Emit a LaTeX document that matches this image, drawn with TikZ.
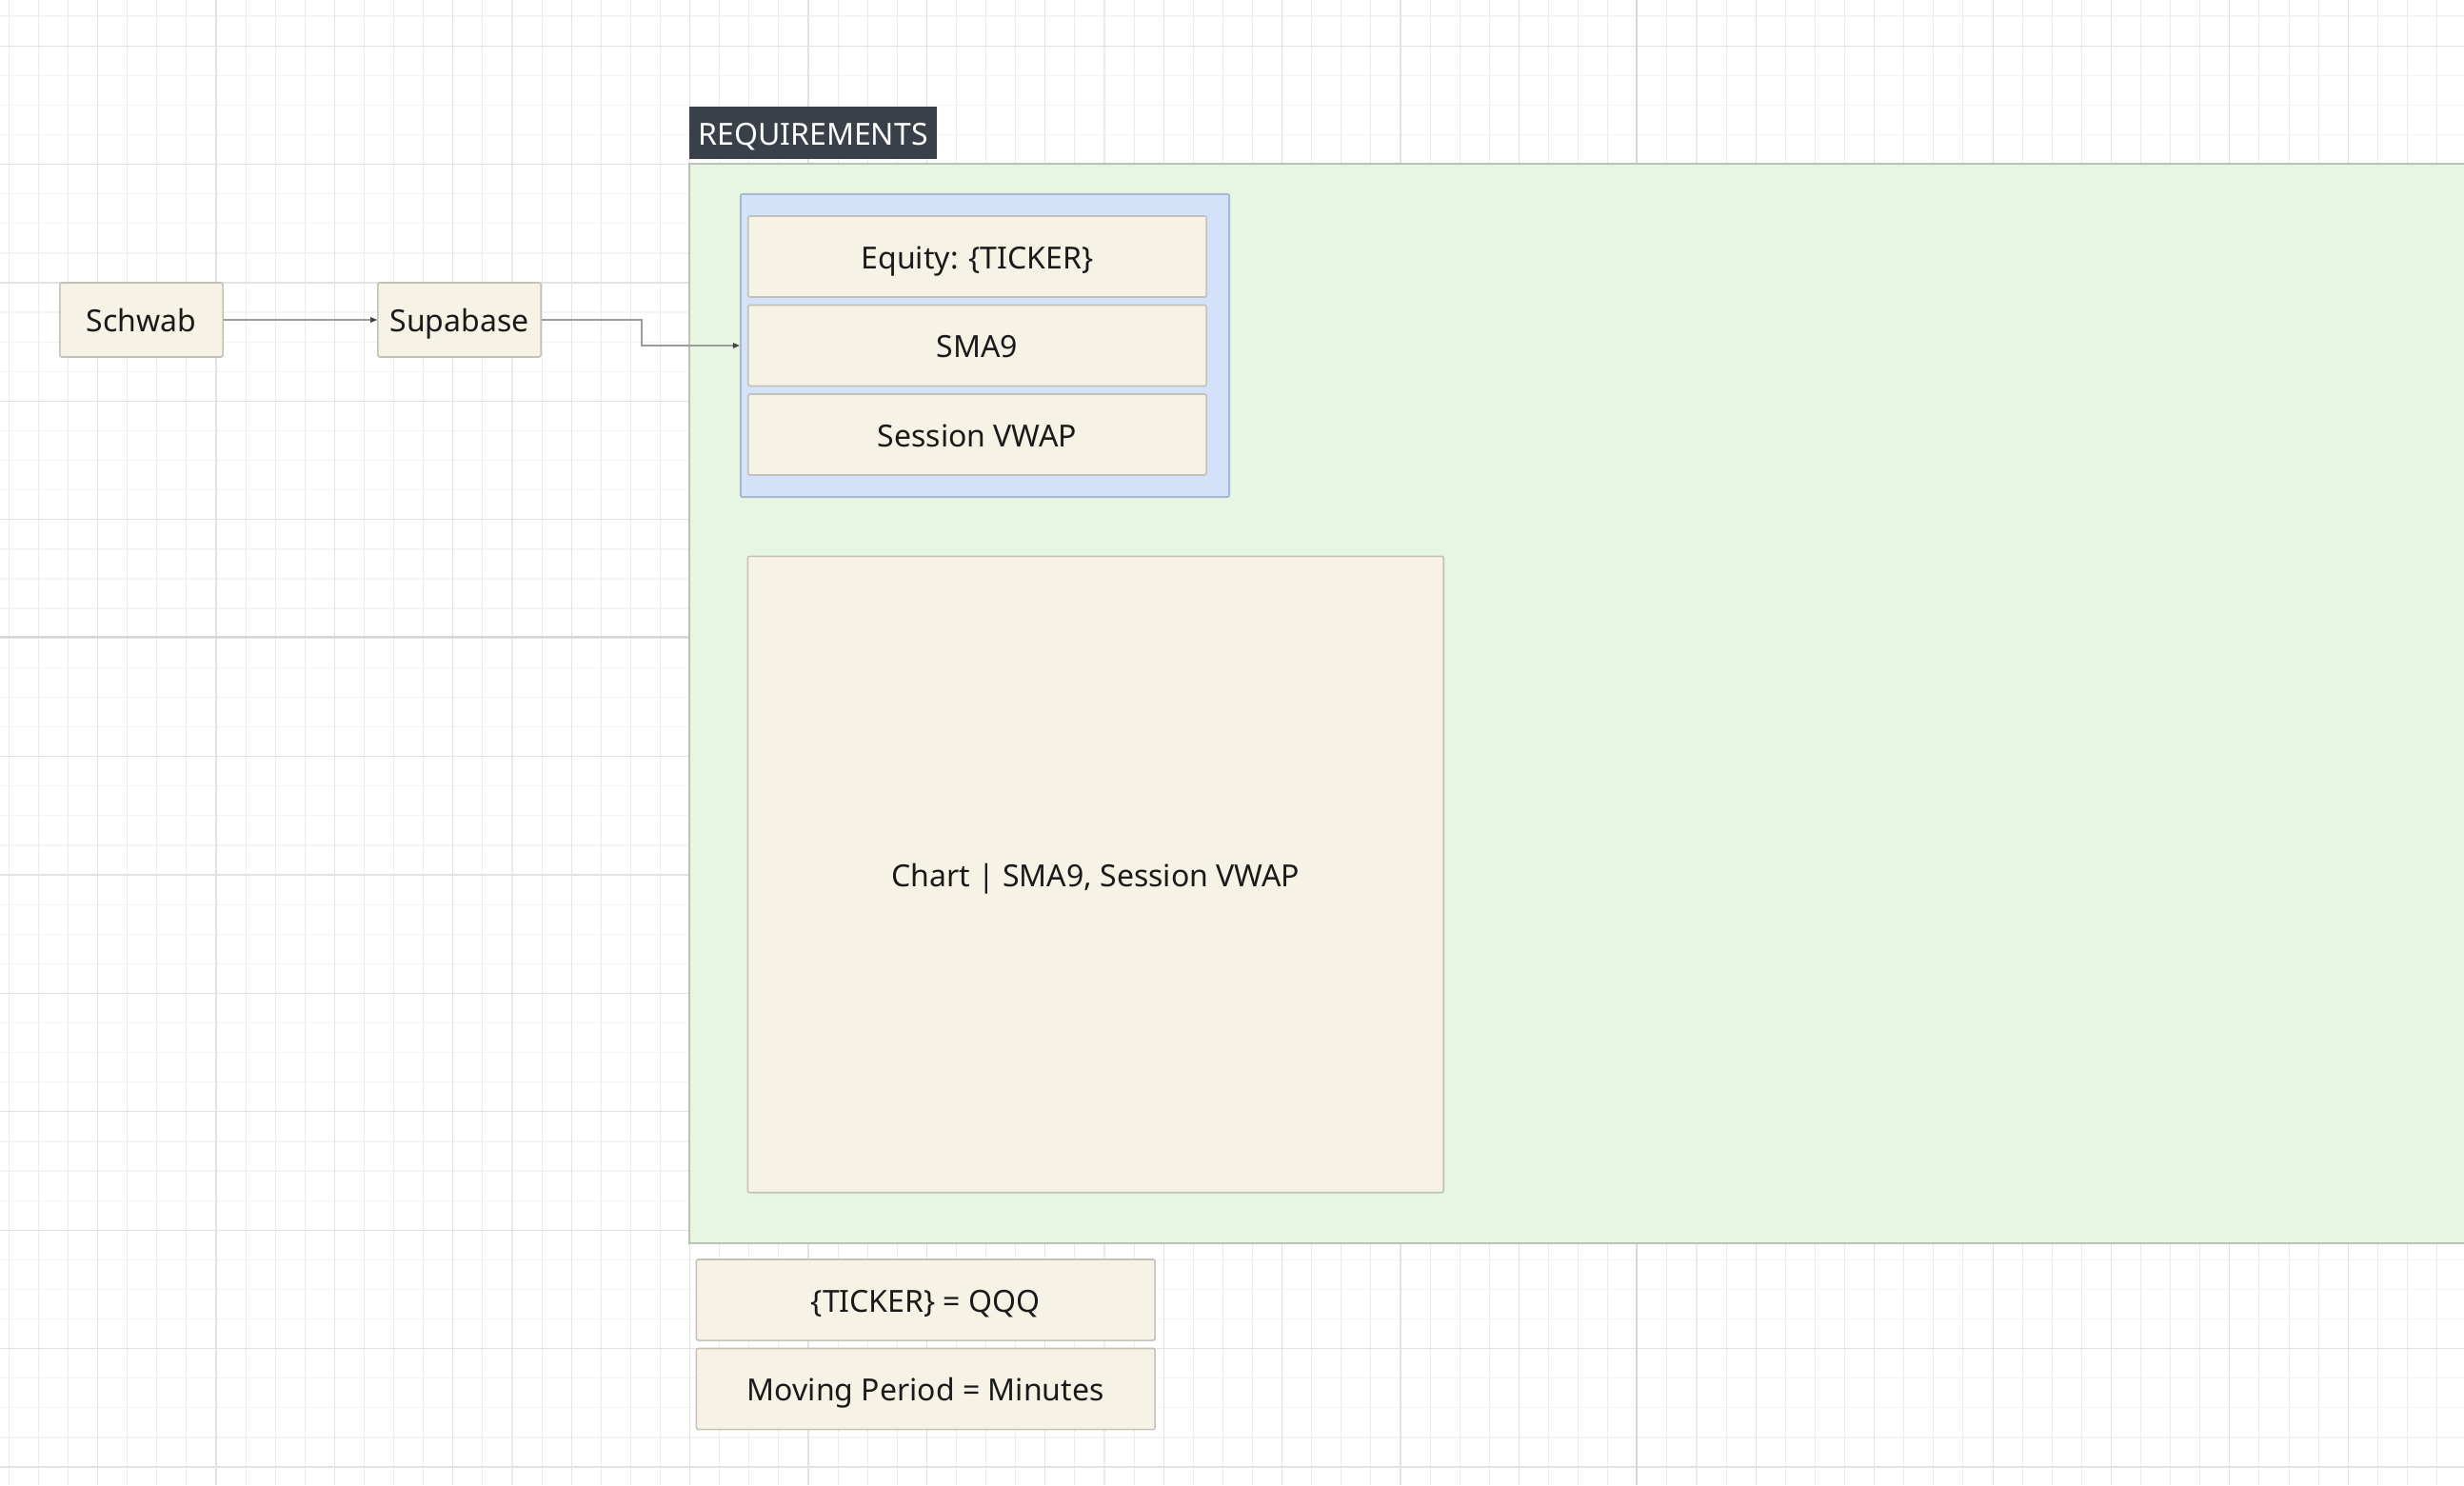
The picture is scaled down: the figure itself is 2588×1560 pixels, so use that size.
\documentclass[tikz,border=0pt]{standalone}
\usepackage{fontspec}
\setmainfont{Noto Sans}
\usetikzlibrary{arrows.meta}

\definecolor{gridvminor}{HTML}{ECECEC}
\definecolor{gridhminor}{HTML}{F4F4F4}
\definecolor{gridmid}{HTML}{E2E2E2}
\definecolor{gridmajor}{HTML}{D6D6D6}
\definecolor{groupfill}{HTML}{E6F6E3}
\definecolor{groupline}{HTML}{B8C2B8}
\definecolor{tagfill}{HTML}{3A4049}
\definecolor{listfill}{HTML}{D3E1F9}
\definecolor{listline}{HTML}{A9B8D1}
\definecolor{cardfill}{HTML}{F6F2E5}
\definecolor{cardline}{HTML}{C4C1B6}
\definecolor{inktext}{HTML}{1A1A1A}
\definecolor{wire}{HTML}{9C9C9C}
\definecolor{wiretip}{HTML}{404040}

\tikzset{
  label font/.style={font=\fontsize{9.1pt}{11pt}\selectfont,
    text height=0.714em, text depth=0pt},
  card/.style={draw=cardline, fill=cardfill, line width=0.45pt,
    rounded corners=0.6pt, inner sep=0pt, text=inktext, label font},
  listbox/.style={draw=listline, fill=listfill, line width=0.55pt,
    rounded corners=0.6pt, inner sep=0pt},
  tagbox/.style={fill=tagfill, inner sep=0pt, text=white, label font},
  conn/.style={draw=wire, line width=0.42pt,
    -{Triangle[length=0.07cm, width=0.055cm, color=wiretip]}},
}

\begin{document}
\begin{tikzpicture}[x=0.01cm, y=-0.01cm]
  \useasboundingbox (0,0) rectangle (2588,1560);
  \fill[white] (0,0) rectangle (2588,1560);

  % canvas grid: minor cells, every fourth line, and the two axes
  \begin{scope}
    \clip (0,0) rectangle (2588,1560);
    \foreach \j in {0,...,50}
      \draw[gridhminor, line width=0.35pt] (0,{17.1+31.1*\j}) -- (2588,{17.1+31.1*\j});
    \foreach \i in {0,...,83}
      \draw[gridvminor, line width=0.3pt] ({9.3+31.1*\i},0) -- ({9.3+31.1*\i},1560);
    \foreach \i in {-1,...,20}
      \draw[gridmid, line width=0.3pt] ({102.6+124.4*\i},0) -- ({102.6+124.4*\i},1560);
    \foreach \j in {0,...,12}
      \draw[gridmid, line width=0.3pt] (0,{48.2+124.4*\j}) -- (2588,{48.2+124.4*\j});
    \draw[gridmajor, line width=0.55pt] (1719,0) -- (1719,1560);
    \draw[gridmajor, line width=0.55pt] (0,669.3) -- (2588,669.3);
  \end{scope}

  % requirements group
  \draw[groupline, fill=groupfill, line width=0.55pt]
    (724,172) rectangle (2600,1306);
  \node[tagbox, minimum width=2.60cm, minimum height=0.55cm] (tag)
    at (854,139.5) {REQUIREMENTS};

  % indicator list
  \node[listbox, minimum width=5.13cm, minimum height=3.18cm] (req)
    at (1034.5,363) {};
  \node[card, minimum width=4.81cm, minimum height=0.85cm] (equity)
    at (1026.5,269.5) {Equity: \{TICKER\}};
  \node[card, minimum width=4.81cm, minimum height=0.85cm] (sma)
    at (1026.5,363) {SMA9};
  \node[card, minimum width=4.81cm, minimum height=0.85cm] (vwap)
    at (1026.5,456.5) {Session VWAP};

  % chart panel
  \node[card, minimum width=7.305cm, minimum height=6.68cm] (chart)
    at (1150.75,918.5) {Chart | SMA9, Session VWAP};

  % parameters
  \node[card, minimum width=4.815cm, minimum height=0.85cm] (ticker)
    at (972.25,1365.5) {\{TICKER\} = QQQ};
  \node[card, minimum width=4.815cm, minimum height=0.85cm] (period)
    at (972.25,1459) {Moving Period = Minutes};

  % data sources
  \node[card, minimum width=1.71cm, minimum height=0.78cm] (schwab)
    at (148.5,336) {Schwab};
  \node[card, minimum width=1.71cm, minimum height=0.78cm] (supa)
    at (482.5,336) {Supabase};

  % connectors
  \draw[conn] (schwab.east) -- (supa.west);
  \draw[conn] (supa.east) -- ++(105,0) |- (req.west);
\end{tikzpicture}
\end{document}
